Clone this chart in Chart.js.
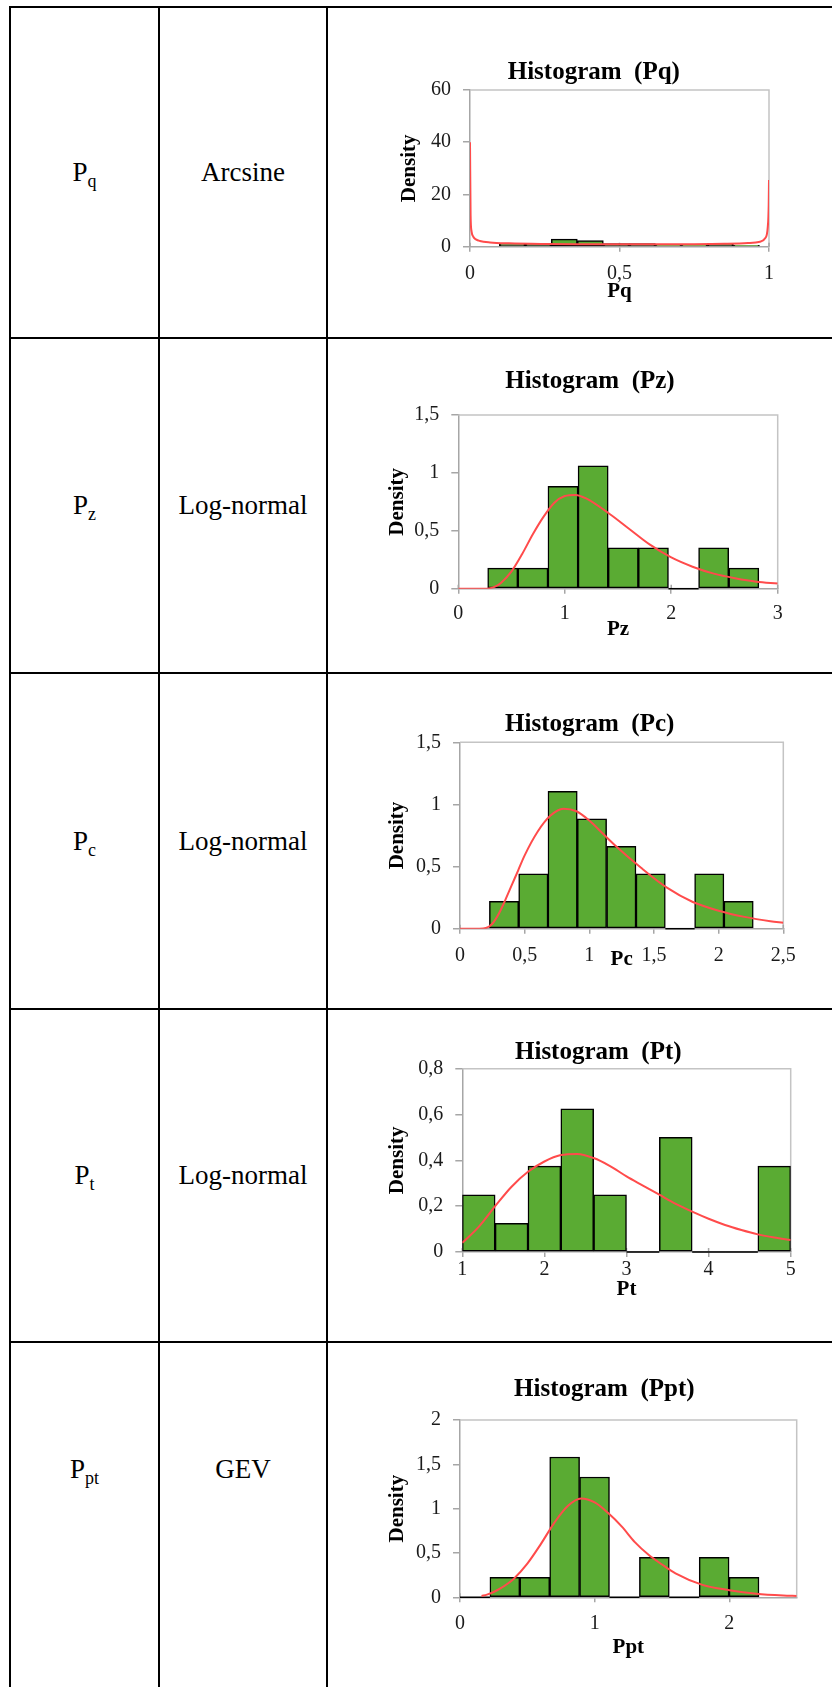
<!DOCTYPE html>
<html>
<head>
<meta charset="utf-8">
<script src="https://cdn.jsdelivr.net/npm/chart.js@4.4.1/dist/chart.umd.min.js"></script>
<style>
    html, body { margin: 0; padding: 0; background: #fff; overflow: hidden; }
    body { width: 832px; height: 1687px; position: relative; font-family: "Liberation Serif", "Times New Roman", serif; }
    .line { position: absolute; background: #000; }
    .cell { position: absolute; display: flex; align-items: center; justify-content: center; font-size: 27px; color: #000; }
    .cell .sub { font-size: 18px; position: relative; top: 6px; }
    canvas { position: absolute; }
</style>
</head>
<body>
<div class="line" style="left:9px;top:6px;width:2px;height:1681px"></div>
<div class="line" style="left:158px;top:6px;width:2px;height:1681px"></div>
<div class="line" style="left:326px;top:6px;width:2px;height:1681px"></div>
<div class="line" style="left:9px;top:6px;width:823px;height:2px"></div>
<div class="line" style="left:9px;top:337px;width:823px;height:2px"></div>
<div class="line" style="left:9px;top:672px;width:823px;height:2px"></div>
<div class="line" style="left:9px;top:1008px;width:823px;height:2px"></div>
<div class="line" style="left:9px;top:1341px;width:823px;height:2px"></div>

<script>
// table rows
const paramNames = ["P", "P", "P", "P", "P"];
const paramSubs = ["q", "z", "c", "t", "pt"];
const distributions = ["Arcsine", "Log-normal", "Log-normal", "Log-normal", "GEV"];

// Pq
const pqBinEdges = [0.098, 0.185, 0.272, 0.359, 0.446, 0.533, 0.62, 0.707, 0.794, 0.881, 0.968];
const pqDensity = [1.15, 1.15, 2.87, 2.3, 1.15, 1.15, 0.57, 0.57, 1.15, 0.57];
const pqCurveX = [0, 0.002, 0.005, 0.011, 0.02, 0.033, 0.067, 0.13, 0.25, 0.4, 0.5, 0.6, 0.75, 0.85, 0.93, 0.97, 0.987, 0.996, 0.999, 1];
const pqCurveY = [40, 12, 6, 3.8, 2.8, 2.2, 1.65, 1.3, 1.05, 0.95, 0.9, 0.9, 0.95, 1.1, 1.4, 1.9, 3.2, 7.7, 16, 25.5];
const pqXTicks = [0, 0.5, 1];
const pqYTicks = [0, 20, 40, 60];

// Pz
const pzBinEdges = [0.276, 0.559, 0.842, 1.125, 1.408, 1.691, 1.974, 2.257, 2.54, 2.823];
const pzDensity = [0.177, 0.177, 0.884, 1.061, 0.354, 0.354, 0, 0.354, 0.177];
const pzCurveX = [0, 0.25, 0.3, 0.35, 0.4, 0.5, 0.6, 0.7, 0.8, 0.9, 1.0, 1.1, 1.2, 1.4, 1.6, 1.8, 2.0, 2.2, 2.4, 2.6, 2.8, 3.0];
const pzCurveY = [0, 0, 0.005, 0.02, 0.05, 0.15, 0.3, 0.47, 0.62, 0.74, 0.8, 0.81, 0.78, 0.66, 0.52, 0.38, 0.27, 0.19, 0.13, 0.09, 0.06, 0.045];
const pzXTicks = [0, 1, 2, 3];
const pzYTicks = [0, 0.5, 1, 1.5];

// Pc
const pcBinEdges = [0.227, 0.454, 0.68, 0.907, 1.134, 1.361, 1.588, 1.814, 2.041, 2.268];
const pcDensity = [0.221, 0.442, 1.105, 0.884, 0.663, 0.442, 0, 0.442, 0.221];
const pcCurveX = [0, 0.15, 0.2, 0.25, 0.3, 0.35, 0.4, 0.45, 0.5, 0.6, 0.7, 0.8, 0.9, 1.0, 1.1, 1.2, 1.4, 1.6, 1.8, 2.0, 2.2, 2.4, 2.5];
const pcCurveY = [0, 0, 0.005, 0.04, 0.12, 0.23, 0.35, 0.47, 0.59, 0.78, 0.91, 0.965, 0.945, 0.87, 0.77, 0.67, 0.49, 0.33, 0.215, 0.145, 0.095, 0.06, 0.048];
const pcXTicks = [0, 0.5, 1, 1.5, 2, 2.5];
const pcYTicks = [0, 0.5, 1, 1.5];

// Pt
const ptBinEdges = [1, 1.4, 1.8, 2.2, 2.6, 3.0, 3.4, 3.8, 4.2, 4.6, 5.0];
const ptDensity = [0.25, 0.125, 0.375, 0.625, 0.25, 0, 0.5, 0, 0, 0.375];
const ptCurveX = [1.0, 1.2, 1.4, 1.6, 1.8, 2.0, 2.2, 2.4, 2.6, 2.8, 3.0, 3.2, 3.4, 3.6, 3.8, 4.0, 4.2, 4.4, 4.6, 4.8, 5.0];
const ptCurveY = [0.04, 0.11, 0.2, 0.285, 0.35, 0.395, 0.423, 0.428, 0.41, 0.375, 0.33, 0.29, 0.25, 0.21, 0.176, 0.145, 0.118, 0.096, 0.077, 0.063, 0.052];
const ptXTicks = [1, 2, 3, 4, 5];
const ptYTicks = [0, 0.2, 0.4, 0.6, 0.8];

// Ppt
const pptBinEdges = [0, 0.222, 0.444, 0.666, 0.888, 1.11, 1.332, 1.554, 1.776, 1.998, 2.22];
const pptDensity = [0, 0.226, 0.226, 1.583, 1.357, 0, 0.452, 0, 0.452, 0.226];
const pptCurveX = [0.16, 0.2, 0.25, 0.3, 0.35, 0.4, 0.5, 0.6, 0.7, 0.8, 0.9, 1.0, 1.1, 1.2, 1.3, 1.4, 1.5, 1.6, 1.8, 2.0, 2.2, 2.4, 2.5];
const pptCurveY = [0.015, 0.03, 0.06, 0.1, 0.15, 0.21, 0.38, 0.6, 0.84, 1.03, 1.115, 1.07, 0.95, 0.8, 0.62, 0.48, 0.37, 0.27, 0.14, 0.08, 0.04, 0.02, 0.015];
const pptXTicks = [0, 1, 2];
const pptYTicks = [0, 0.5, 1, 1.5, 2];

const serif = '"Liberation Serif", "Times New Roman", serif';
const axisColor = "#a6a6a6";
const frameColor = "#c4c4c4";
const barGreen = "#5aab33";
const curveRed = "#ff4b4b";

Chart.defaults.font.family = serif;
Chart.defaults.color = "#1a1a1a";

// row cells
const rowBoxes = [[8, 329], [339, 333], [674, 334], [1010, 331], [1343, 252]];
rowBoxes.forEach((r, i) => {
    let a = document.createElement("div");
    a.className = "cell";
    a.style.cssText = `left:11px;width:147px;top:${r[0]}px;height:${r[1]}px`;
    a.innerHTML = "<span>" + paramNames[i] + '<span class="sub">' + paramSubs[i] + "</span></span>";
    document.body.appendChild(a);
    let b = document.createElement("div");
    b.className = "cell";
    b.style.cssText = `left:160px;width:166px;top:${r[0]}px;height:${r[1]}px`;
    b.textContent = distributions[i];
    document.body.appendChild(b);
});

const fmt = (v) => String(v).replace(".", ",");

// frame, inner tick stubs and empty bins
const histAxes = {
    id: "histAxes",
    beforeDatasetsDraw(chart) {
        const { ctx, chartArea: a } = chart;
        const x = chart.scales.x;
        ctx.save();
        ctx.lineWidth = 1.5;
        ctx.strokeStyle = frameColor;
        ctx.beginPath();
        ctx.moveTo(a.left, a.top);
        ctx.lineTo(a.right, a.top);
        ctx.lineTo(a.right, a.bottom);
        ctx.stroke();
        ctx.strokeStyle = axisColor;
        ctx.beginPath();
        x.ticks.forEach((t, i) => {
            let px = x.getPixelForTick(i);
            ctx.moveTo(px, a.bottom);
            ctx.lineTo(px, a.bottom - 4);
        });
        ctx.stroke();
        ctx.strokeStyle = "#000";
        ctx.beginPath();
        chart.getDatasetMeta(0).data.forEach((el) => {
            if (Math.abs(el.base - el.y) < 0.5) {
                ctx.moveTo(el.x - el.width / 2, el.base);
                ctx.lineTo(el.x + el.width / 2, el.base);
            }
        });
        ctx.stroke();
        ctx.restore();
    },
};

function makeHistogram(d, box) {
    const cx = 330, cw = 502, cy = box.top, ch = box.height;
    let canvas = document.createElement("canvas");
    canvas.width = cw;
    canvas.height = ch;
    canvas.style.left = cx + "px";
    canvas.style.top = cy + "px";
    document.body.appendChild(canvas);

    const pl = 2 * box.titleX - box.r - cx;
    const pr = cx + cw - box.r;
    const yWidth = box.l - (cx + pl);
    const xHeight = cy + ch - box.b;

    let bars = [];
    for (let i = 0; i < d.density.length; i++) {
        bars.push({ x: (d.edges[i] + d.edges[i + 1]) / 2, y: d.density[i] });
    }
    let curve = d.curveX.map((v, i) => ({ x: v, y: d.curveY[i] }));

    return new Chart(canvas.getContext("2d"), {
        type: "bar",
        data: {
            datasets: [
                {
                    data: bars,
                    backgroundColor: barGreen,
                    borderColor: "#000",
                    borderWidth: 1.5,
                    borderSkipped: false,
                    barPercentage: 1,
                    categoryPercentage: 1,
                    order: 1,
                },
                {
                    type: "line",
                    data: curve,
                    borderColor: curveRed,
                    borderWidth: 2,
                    pointRadius: 0,
                    cubicInterpolationMode: "monotone",
                    order: 0,
                },
            ],
        },
        options: {
            responsive: false,
            animation: false,
            devicePixelRatio: 1,
            events: [],
            layout: { padding: { left: pl, right: pr, top: 0, bottom: 0 }, autoPadding: false },
            plugins: {
                legend: { display: false },
                tooltip: { enabled: false },
                title: {
                    display: true,
                    text: d.title,
                    color: "#000",
                    font: { size: 25, weight: "bold", lineHeight: 1 },
                    padding: { top: box.titleY - cy - 12.5, bottom: box.t - box.titleY - 12.5 },
                },
            },
            scales: {
                x: {
                    type: "linear",
                    min: d.xTicks[0],
                    max: d.xMax,
                    offset: false,
                    afterBuildTicks: (s) => { s.ticks = d.xTicks.map((v) => ({ value: v })); },
                    afterFit: (s) => { s.height = xHeight; },
                    ticks: {
                        callback: fmt,
                        autoSkip: false,
                        maxRotation: 0,
                        padding: box.xTickY - box.b - 10 - 5,
                        font: { size: 20, lineHeight: 1 },
                    },
                    grid: { offset: false, drawOnChartArea: false, tickLength: 5, color: axisColor, lineWidth: 1.5 },
                    border: { color: axisColor, width: 1.5 },
                    title: {
                        display: true,
                        text: d.xTitle,
                        color: "#000",
                        font: { size: 21, weight: "bold", lineHeight: 1 },
                        padding: { top: 0, bottom: cy + ch - box.xTitleY - 10.5 },
                    },
                },
                y: {
                    min: 0,
                    max: d.yTicks[d.yTicks.length - 1],
                    afterBuildTicks: (s) => { s.ticks = d.yTicks.map((v) => ({ value: v })); },
                    afterFit: (s) => { s.width = yWidth; },
                    ticks: { callback: fmt, padding: 12, font: { size: 20 } },
                    grid: { drawOnChartArea: false, tickLength: 7, color: axisColor, lineWidth: 1.5 },
                    border: { color: axisColor, width: 1.5 },
                    title: {
                        display: true,
                        text: "Density",
                        color: "#000",
                        font: { size: 21, weight: "bold", lineHeight: 1 },
                        padding: { top: box.yTitleX - (cx + pl) - 10.5, bottom: 0 },
                    },
                },
            },
        },
        plugins: [histAxes],
    });
}

makeHistogram(
    { title: "Histogram  (Pq)", xTitle: "Pq", edges: pqBinEdges, density: pqDensity, curveX: pqCurveX, curveY: pqCurveY, xTicks: pqXTicks, xMax: 1, yTicks: pqYTicks },
    { top: 8, height: 329, l: 470, r: 769, t: 90, b: 246.7, titleX: 593.8, titleY: 73, yTitleX: 410, xTickY: 273.3, xTitleY: 291.7 }
);
makeHistogram(
    { title: "Histogram  (Pz)", xTitle: "Pz", edges: pzBinEdges, density: pzDensity, curveX: pzCurveX, curveY: pzCurveY, xTicks: pzXTicks, xMax: 3, yTicks: pzYTicks },
    { top: 339, height: 333, l: 458.3, r: 777.7, t: 415, b: 588.7, titleX: 590, titleY: 382, yTitleX: 398, xTickY: 613.3, xTitleY: 630 }
);
makeHistogram(
    { title: "Histogram  (Pc)", xTitle: "Pc", edges: pcBinEdges, density: pcDensity, curveX: pcCurveX, curveY: pcCurveY, xTicks: pcXTicks, xMax: 2.5, yTicks: pcYTicks },
    { top: 674, height: 334, l: 460, r: 783.3, t: 742.3, b: 928.7, titleX: 589.7, titleY: 725, yTitleX: 398, xTickY: 956, xTitleY: 960 }
);
makeHistogram(
    { title: "Histogram  (Pt)", xTitle: "Pt", edges: ptBinEdges, density: ptDensity, curveX: ptCurveX, curveY: ptCurveY, xTicks: ptXTicks, xMax: 5, yTicks: ptYTicks },
    { top: 1010, height: 331, l: 462.3, r: 790.7, t: 1068.7, b: 1252, titleX: 598.3, titleY: 1052.7, yTitleX: 398, xTickY: 1270, xTitleY: 1290 }
);
makeHistogram(
    { title: "Histogram  (Ppt)", xTitle: "Ppt", edges: pptBinEdges, density: pptDensity, curveX: pptCurveX, curveY: pptCurveY, xTicks: pptXTicks, xMax: 2.5, yTicks: pptYTicks },
    { top: 1343, height: 344, l: 460, r: 796.7, t: 1420, b: 1597.3, titleX: 604.3, titleY: 1390, yTitleX: 398, xTickY: 1623.3, xTitleY: 1647.3 }
);
</script>
</body>
</html>
